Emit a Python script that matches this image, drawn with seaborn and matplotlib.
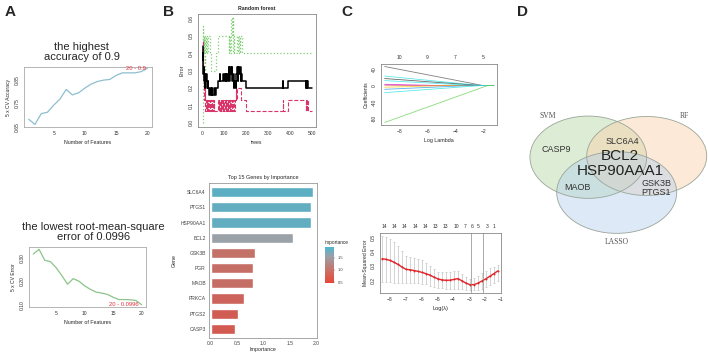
import numpy as np
import pandas as pd
import matplotlib
matplotlib.use("Agg")
import matplotlib.pyplot as plt
import seaborn as sns
from matplotlib.patches import Ellipse
from matplotlib.colors import LinearSegmentedColormap, Normalize
from matplotlib.cm import ScalarMappable

# %%
# A - SVM-RFE curves
n_features = list(range(1, 21))
svm_accuracy = [0.683, 0.661, 0.707, 0.713, 0.743, 0.769, 0.810, 0.787, 0.796, 0.816,
                0.833, 0.844, 0.850, 0.853, 0.870, 0.881, 0.881, 0.881, 0.886, 0.900]
svm_rmse = [0.318, 0.338, 0.291, 0.285, 0.259, 0.225, 0.188, 0.212, 0.201, 0.181,
            0.166, 0.154, 0.150, 0.144, 0.132, 0.122, 0.122, 0.121, 0.118, 0.0996]
acc_title = "the highest\naccuracy of 0.9"
rmse_title = "the lowest root-mean-square\nerror of 0.0996"
acc_label = "20 - 0.9"
rmse_label = "20 - 0.0996"

# B - random forest error (step breakpoints: tree, error)
rf_oob = [(1, 0.44), (2, 0.36), (3, 0.40), (4, 0.32), (5, 0.28), (7, 0.32), (8, 0.24), (10, 0.28),
          (12, 0.20), (14, 0.24), (17, 0.28), (19, 0.24), (22, 0.20), (25, 0.24), (28, 0.20),
          (32, 0.16), (36, 0.20), (38, 0.16), (44, 0.20), (46, 0.16), (54, 0.20), (56, 0.16),
          (62, 0.20), (70, 0.24), (80, 0.28), (82, 0.24), (96, 0.28), (98, 0.24), (104, 0.28),
          (106, 0.24), (110, 0.28), (112, 0.24), (118, 0.28), (122, 0.32), (124, 0.24),
          (128, 0.32), (131, 0.28), (134, 0.32), (137, 0.24), (140, 0.28), (143, 0.20),
          (147, 0.24), (152, 0.20), (156, 0.28), (159, 0.32), (162, 0.24), (165, 0.32),
          (168, 0.28), (172, 0.32), (175, 0.24), (178, 0.28), (181, 0.24), (200, 0.20),
          (367, 0.24), (370, 0.20), (393, 0.24), (473, 0.20), (475, 0.24), (477, 0.20),
          (479, 0.24), (482, 0.20), (500, 0.20)]
rf_class1 = [(1, 0.467), (2, 0.333), (3, 0.40), (4, 0.267), (6, 0.20), (8, 0.267), (9, 0.133),
             (11, 0.20), (13, 0.067), (16, 0.133), (19, 0.067), (22, 0.133), (25, 0.067),
             (28, 0.133), (31, 0.067), (34, 0.133), (37, 0.067), (40, 0.133), (43, 0.067),
             (46, 0.133), (49, 0.067), (52, 0.133), (55, 0.067), (72, 0.133), (75, 0.067),
             (78, 0.133), (81, 0.067), (84, 0.133), (87, 0.067), (90, 0.133), (93, 0.067),
             (96, 0.133), (99, 0.067), (104, 0.133), (107, 0.067), (110, 0.133), (113, 0.067),
             (116, 0.133), (119, 0.067), (122, 0.133), (125, 0.067), (128, 0.133), (131, 0.067),
             (134, 0.133), (137, 0.067), (140, 0.133), (143, 0.067), (148, 0.133), (152, 0.20),
             (155, 0.133), (158, 0.20), (176, 0.133), (200, 0.067), (367, 0.133), (370, 0.067),
             (393, 0.133), (473, 0.067), (475, 0.133), (477, 0.067), (479, 0.133), (482, 0.067),
             (500, 0.067)]
rf_class2 = [(1, 0.0), (2, 0.556), (3, 0.5), (4, 0.4), (6, 0.5), (8, 0.4), (10, 0.3), (12, 0.4), (14, 0.5),
             (16, 0.4), (18, 0.5), (22, 0.4), (24, 0.5), (34, 0.4), (38, 0.3), (62, 0.4),
             (72, 0.5), (120, 0.4), (123, 0.5), (126, 0.4), (129, 0.5), (132, 0.6), (135, 0.5),
             (138, 0.6), (141, 0.4), (144, 0.5), (147, 0.4), (160, 0.5), (163, 0.4), (166, 0.5),
             (170, 0.4), (173, 0.5), (180, 0.4), (500, 0.4)]

# B - importance
genes = ["SLC6A4", "PTGS1", "HSP90AA1", "BCL2", "GSK3B", "PGR", "MAOB", "PRKCA", "PTGS2", "CASP3"]
importance = [1.925, 1.89, 1.89, 1.56, 0.835, 0.805, 0.80, 0.635, 0.52, 0.47]

# C - lasso coefficient paths (value at left end, log lambda where it reaches 0)
coef_names = ["g1", "g2", "g3", "g4", "g5", "g6", "g7", "g8", "g9", "g10"]
coef_start = [46, 23, 17, 12, 3, 0.8, -4, -9, -17, -89]
coef_zero = [-2.0, -2.1, -2.2, -2.5, -5.0, -7.0, -4.5, -3.0, -2.2, -1.7]
coef_colors = ["#555555", "#28E2E5", "#333333", "#28E2E5", "#CD0BBC", "#DF536B",
               "#F5C710", "#2297E6", "#28E2E5", "#61D04F"]
coef_top_pos = [-8, -6, -4, -2]
coef_top_lab = ["10", "9", "7", "5"]

# C - cross-validation curve
cv_loglambda = [-8.45, -8.20, -7.95, -7.70, -7.45, -7.20, -6.95, -6.70, -6.45, -6.20,
                -5.95, -5.70, -5.45, -5.20, -4.95, -4.70, -4.45, -4.20, -3.95, -3.70,
                -3.45, -3.20, -2.95, -2.70, -2.45, -2.20, -1.95, -1.70, -1.45, -1.20]
cv_mse = [0.350, 0.345, 0.338, 0.325, 0.310, 0.292, 0.276, 0.273, 0.268, 0.262,
          0.255, 0.246, 0.236, 0.222, 0.210, 0.203, 0.200, 0.201, 0.206, 0.212,
          0.197, 0.181, 0.170, 0.170, 0.180, 0.195, 0.210, 0.228, 0.246, 0.265]
cv_upper = [0.508, 0.500, 0.488, 0.468, 0.440, 0.400, 0.368, 0.363, 0.356, 0.348,
            0.338, 0.322, 0.302, 0.278, 0.258, 0.257, 0.257, 0.260, 0.264, 0.262,
            0.245, 0.225, 0.211, 0.214, 0.230, 0.250, 0.266, 0.282, 0.295, 0.304]
cv_lower = [0.186, 0.185, 0.185, 0.184, 0.184, 0.183, 0.183, 0.182, 0.181, 0.179,
            0.176, 0.171, 0.164, 0.156, 0.150, 0.145, 0.141, 0.139, 0.139, 0.140,
            0.138, 0.134, 0.131, 0.131, 0.133, 0.142, 0.155, 0.168, 0.182, 0.198]
cv_vlines = [-2.85, -2.1]
cv_top_pos = [-8.33, -7.70, -7.04, -6.37, -5.73, -5.10, -4.46, -3.79, -3.25, -2.83, -2.41, -1.87, -1.41]
cv_top_lab = ["14", "14", "14", "14", "14", "13", "13", "10", "7", "6", "5", "3", "1"]

# D - venn
venn_sets = ["SVM", "RF", "LASSO"]
venn_genes = {"svm": "CASP9", "svm_rf": "SLC6A4", "core": "BCL2\nHSP90AAA1",
              "svm_lasso": "MAOB", "rf_lasso": "GSK3B\nPTGS1"}

# %%
sns.set_style("white")
plt.rcParams["font.family"] = ["Liberation Sans", "DejaVu Sans"]

W, H = 708, 352
fig = plt.figure(figsize=(7.08, 3.52), dpi=100)


def box(x0, y0, x1, y1):
    return [x0 / W, 1 - y1 / H, (x1 - x0) / W, (y1 - y0) / H]


def r_style(ax, col="#777777"):
    for s in ax.spines.values():
        s.set_visible(True)
        s.set_color(col)
        s.set_linewidth(0.6)
    ax.tick_params(length=2, width=0.4, pad=1, labelsize=3.6, colors="#333333", direction="out")
    ax.tick_params(axis="y", labelrotation=90)
    for t in ax.get_yticklabels():
        t.set_va("center")


# A top
ax = fig.add_axes(box(24, 67, 152, 127))
sns.lineplot(x=n_features, y=svm_accuracy, color="#8cbfcf", lw=0.9, ax=ax)
ax.set_xlim(0.24, 20.76)
ax.set_ylim(0.652, 0.906)
ax.set_xticks([5, 10, 15, 20])
ax.set_yticks([0.65, 0.75, 0.85])
r_style(ax, "#aaaaaa")
ax.text(n_features[-1] - 0.2, svm_accuracy[-1], acc_label, color="#e0303a", fontsize=4.2, ha="right", va="center")
ax.set_xlabel("Number of Features", fontsize=3.8, labelpad=3)
ax.set_ylabel("5 x CV Accuracy", fontsize=3.6, labelpad=3)
ax.set_title(acc_title, fontsize=8, x=0.45, pad=5, linespacing=1.0)

# A bottom
ax = fig.add_axes(box(29, 247, 146, 307))
sns.lineplot(x=n_features, y=svm_rmse, color="#8cc48a", lw=0.9, ax=ax)
ax.set_xlim(0.24, 20.76)
ax.set_ylim(0.090, 0.348)
ax.set_xticks([5, 10, 15, 20])
ax.set_yticks([0.10, 0.20, 0.30])
ax.set_yticklabels(["0.10", "0.20", "0.30"])
r_style(ax, "#aaaaaa")
ax.text(n_features[-1] - 0.5, svm_rmse[-1], rmse_label, color="#e0303a", fontsize=4.2, ha="right", va="center")
ax.set_xlabel("Number of Features", fontsize=3.8, labelpad=3)
ax.set_ylabel("5 x CV Error", fontsize=3.6, labelpad=3)
ax.set_title(rmse_title, fontsize=8, x=0.55, pad=5, linespacing=1.0)

# B top - random forest
ax = fig.add_axes(box(198, 14, 316, 127))
rf = pd.concat([
    pd.DataFrame(rf_oob, columns=["trees", "err"]).assign(s="OOB"),
    pd.DataFrame(rf_class1, columns=["trees", "err"]).assign(s="c1"),
    pd.DataFrame(rf_class2, columns=["trees", "err"]).assign(s="c2"),
])
for name, col, ls, lw in [("c2", "#7fcf74", ":", 0.9), ("c1", "#d9356a", "--", 0.8), ("OOB", "black", "-", 1.1)]:
    d = rf[rf.s == name]
    sns.lineplot(data=d, x="trees", y="err", color=col, ls=ls, lw=lw, drawstyle="steps-post",
                 estimator=None, ax=ax)
ax.set_xlim(-20, 520)
ax.set_ylim(-0.024, 0.624)
ax.set_xticks([0, 100, 200, 300, 400, 500])
ax.set_yticks([0.0, 0.1, 0.2, 0.3, 0.4, 0.5, 0.6])
r_style(ax, "#888888")
ax.set_xlabel("trees", fontsize=3.6, labelpad=3)
ax.set_ylabel("Error", fontsize=3.6, labelpad=3)
ax.set_title("Random forest", fontsize=3.8, fontweight="bold", pad=3)

# B bottom - importance bars
cmap = LinearSegmentedColormap.from_list(
    "imp", [(0, "#e8473a"), (0.3, "#cf6a5e"), (0.74, "#9aa0a8"), (1, "#4bb8d4")])
norm = Normalize(vmin=min(importance), vmax=max(importance))
ax = fig.add_axes(box(209, 183, 317, 338))
sns.barplot(x=importance, y=genes, hue=genes, palette=[cmap(norm(v)) for v in importance],
            legend=False, width=0.66, orient="h", ax=ax)
ax.set_xlim(-0.03, 2.01)
ax.set_ylim(9.6, -0.6)
ax.set_xticks([0.0, 0.5, 1.0, 1.5, 2.0])
for s in ax.spines.values():
    s.set_visible(True)
    s.set_color("#999999")
    s.set_linewidth(0.6)
ax.tick_params(length=1.5, width=0.4, pad=0.8, labelsize=3.6, colors="#444444")
ax.set_xlabel("Importance", fontsize=3.8, labelpad=0.5)
ax.set_ylabel("Gene", fontsize=3.8, labelpad=3)
ax.set_title("Top 15 Genes by Importance", fontsize=4, pad=3)
cax = fig.add_axes(box(325, 247, 334, 283))
cb = fig.colorbar(ScalarMappable(norm=norm, cmap=cmap), cax=cax, ticks=[0.5, 1.0, 1.5])
cb.outline.set_visible(False)
cax.tick_params(length=1, width=0.3, pad=1.5, labelsize=3, colors="#444444")
cax.set_title("importance", fontsize=3.4, loc="left", pad=2)

# C top - lasso paths
ax = fig.add_axes(box(381, 64, 497, 125))
x_left, x_right = -9.05, -1.25
paths = []
for nm, s0, z in zip(coef_names, coef_start, coef_zero):
    paths.append(pd.DataFrame({"loglam": [x_left, z, x_right], "coef": [s0, 0, 0], "gene": nm}))
paths = pd.concat(paths)
sns.lineplot(data=paths, x="loglam", y="coef", hue="gene", palette=coef_colors, lw=0.6,
             alpha=0.75, estimator=None, sort=False, legend=False, ax=ax)
ax.set_xlim(-9.31, -1.02)
ax.set_ylim(-95, 52)
ax.set_xticks([-8, -6, -4, -2])
ax.set_yticks([40, 20, 0, -20, -40, -60, -80])
ax.set_yticklabels(["40", "", "0", "", "-40", "", "-80"])
r_style(ax, "#888888")
ax.set_xlabel("Log Lambda", fontsize=3.8, labelpad=3)
ax.set_ylabel("Coefficients", fontsize=3.6, labelpad=2)
top = ax.secondary_xaxis("top")
top.set_xticks(coef_top_pos, labels=coef_top_lab)
top.tick_params(length=0, labelsize=3.6, pad=3, colors="#333333")
top.spines["top"].set_visible(False)

# C bottom - cv curve
ax = fig.add_axes(box(380, 233, 501, 293))
ax.errorbar(cv_loglambda, cv_mse,
            yerr=[np.array(cv_mse) - np.array(cv_lower), np.array(cv_upper) - np.array(cv_mse)],
            fmt="none", ecolor="#c4c4c4", elinewidth=0.5, capsize=0.8, capthick=0.5)
sns.lineplot(x=cv_loglambda, y=cv_mse, color="#e0262a", lw=1.0, marker="o", markersize=1.4,
             markeredgewidth=0, ax=ax)
for v in cv_vlines:
    ax.axvline(v, color="#888888", lw=0.5)
ax.set_xlim(-8.58, -1.02)
ax.set_ylim(0.112, 0.528)
ax.set_xticks([-8, -7, -6, -5, -4, -3, -2, -1])
ax.set_yticks([0.2, 0.3, 0.4, 0.5])
r_style(ax, "#888888")
ax.set_xlabel("Log(\u03bb)", fontsize=4, labelpad=3)
ax.set_ylabel("Mean-Squared Error", fontsize=3.6, labelpad=2)
top = ax.secondary_xaxis("top")
top.set_xticks(cv_top_pos, labels=cv_top_lab)
top.tick_params(length=0, labelsize=3.6, pad=3, colors="#333333")
top.spines["top"].set_visible(False)

# D - venn
ax = fig.add_axes(box(520, 90, 708, 260))
ax.set_xlim(520, 708)
ax.set_ylim(260, 90)
ax.axis("off")
ellipses = [((588.3, 157.2), 116.7, 82.3, "#b5d6a0"),
            ((646.7, 156.0), 120, 79, "#fcd0a8"),
            ((616.7, 192.5), 120, 81.7, "#b4d0ee")]
for c, w, h, fc in ellipses:
    ax.add_patch(Ellipse(c, w, h, facecolor=fc, alpha=0.45, lw=0))
for c, w, h, fc in ellipses:
    ax.add_patch(Ellipse(c, w, h, facecolor="none", edgecolor="#9aa59a", lw=0.6))
sf = ["Liberation Serif", "DejaVu Serif"]
ax.text(548, 116, venn_sets[0], family=sf, fontsize=5.5, color="#555555", ha="center", va="center")
ax.text(684, 116, venn_sets[1], family=sf, fontsize=5.5, color="#555555", ha="center", va="center")
ax.text(616.5, 241.5, venn_sets[2], family=sf, fontsize=5.5, color="#555555", ha="center", va="center")
ax.text(556.5, 149, venn_genes["svm"], fontsize=6.5, color="#333333", ha="center", va="center")
ax.text(622, 141, venn_genes["svm_rf"], fontsize=6.5, color="#333333", ha="center", va="center")
ax.text(620, 163.5, venn_genes["core"], fontsize=11, color="#222222", ha="center", va="center",
        linespacing=1.15)
ax.text(577.5, 188, venn_genes["svm_lasso"], fontsize=6.5, color="#333333", ha="center", va="center")
ax.text(656, 188, venn_genes["rf_lasso"], fontsize=6.5, color="#333333", ha="center", va="center",
        linespacing=1.0)

# panel letters
for lab, x in [("A", 10), ("B", 169), ("C", 347), ("D", 522)]:
    fig.text(x / W, 1 - 12 / H, lab, fontsize=11, fontweight="bold", ha="center", va="center")

fig.savefig("out.png", dpi=100)
